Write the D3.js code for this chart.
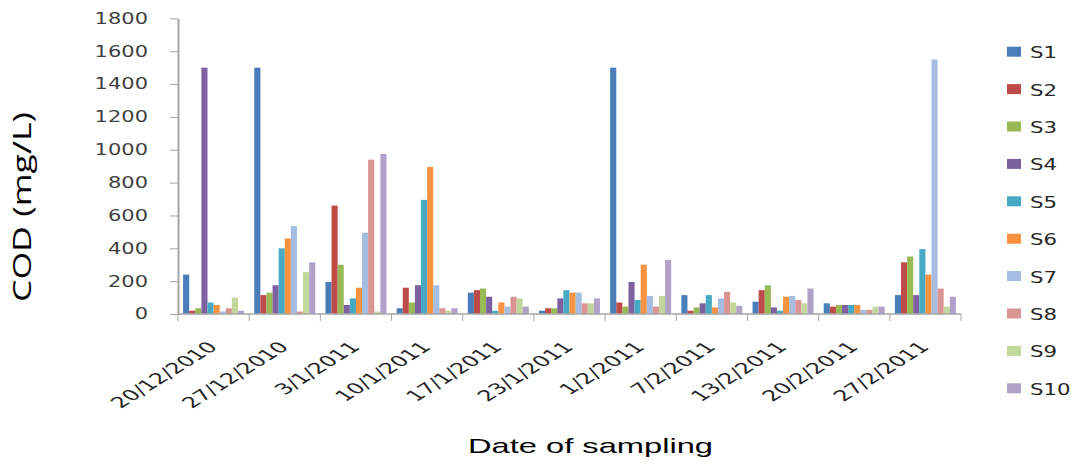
<!DOCTYPE html>
<html>
<head>
<meta charset="utf-8">
<script src="https://cdn.jsdelivr.net/npm/d3@7"></script>
<style>
  html, body { margin: 0; padding: 0; background: #fff; }
  svg { display: block; }
</style>
</head>
<body>
<svg id="chart" width="1076" height="469"></svg>
<script>
// ---- data ----
const dates = ["20/12/2010","27/12/2010","3/1/2011","10/1/2011","17/1/2011","23/1/2011","1/2/2011","7/2/2011","13/2/2011","20/2/2011","27/2/2011"];
const seriesNames = ["S1","S2","S3","S4","S5","S6","S7","S8","S9","S10"];
const S1  = [240, 1500, 195,  35, 130,  20, 1500, 115,  75, 65,  115];
const S2  = [ 20,  115, 660, 160, 145,  35,   70,  20, 145, 45,  315];
const S3  = [ 35,  130, 300,  70, 155,  35,   45,  40, 175, 55,  350];
const S4  = [1500, 175,  55, 175, 105,  95,  195,  65,  40, 55,  115];
const S5  = [ 70,  400,  95, 695,  20, 145,   85, 115,  20, 55,  395];
const S6  = [ 55,  460, 160, 895,  70, 130,  300,  40, 105, 55,  240];
const S7  = [ 15,  535, 495, 175,  45, 130,  110,  95, 110, 25, 1550];
const S8  = [ 35,   15, 940,  35, 105,  65,   45, 135,  85, 25,  155];
const S9  = [100,  255,  15,  20,  95,  65,  110,  70,  65, 45,   45];
const S10 = [ 20,  315, 975,  35,  45,  95,  330,  50, 155, 45,  105];
const yTicks = [0,200,400,600,800,1000,1200,1400,1600,1800];
const colors = ["#4A7EBB","#BE4B48","#98B954","#7D60A0","#46AAC5","#F69240","#A5BDE0","#DA9593","#C3D69B","#B1A0C7"];
const yTitle = "COD (mg/L)";
const xTitle = "Date of sampling";

const seriesValues = [S1,S2,S3,S4,S5,S6,S7,S8,S9,S10];

// ---- layout ----
const svg = d3.select("#chart");
const plotLeft = 178, plotRight = 961, plotTop = 18.4, plotBottom = 314;
const axisColor = "#A6A6A6";

const x0 = d3.scaleBand().domain(dates).range([plotLeft, plotRight]).paddingInner(0.143).paddingOuter(0.0715);
const x1 = d3.scaleBand().domain(seriesNames).range([0, x0.bandwidth()]);
const y = d3.scaleLinear().domain([0, 1800]).range([plotBottom, plotTop]);
const color = d3.scaleOrdinal().domain(seriesNames).range(colors);

// bars
const groups = svg.append("g").selectAll("g")
  .data(dates)
  .join("g")
  .attr("transform", d => `translate(${x0(d)},0)`);

groups.selectAll("rect")
  .data((d, i) => seriesNames.map((s, j) => ({ s, v: seriesValues[j][i] })))
  .join("rect")
  .attr("x", d => x1(d.s))
  .attr("width", x1.bandwidth())
  .attr("y", d => y(d.v))
  .attr("height", d => y(0) - y(d.v))
  .attr("fill", d => color(d.s));

// y axis
const yAxis = svg.append("g")
  .attr("transform", `translate(${plotLeft},0)`)
  .call(d3.axisLeft(y).tickValues(yTicks).tickSize(8).tickSizeOuter(0).tickFormat(""));
yAxis.select(".domain").attr("stroke", axisColor).attr("stroke-width", 2);
yAxis.selectAll(".tick line").attr("stroke", axisColor).attr("stroke-width", 1);

svg.append("g").selectAll("text")
  .data(yTicks)
  .join("text")
  .attr("transform", d => `translate(148,${y(d)}) scale(1.4,1)`)
  .attr("text-anchor", "end")
  .attr("dy", "0.36em")
  .attr("font-family", "DejaVu Sans")
  .attr("font-size", 15)
  .attr("fill", "#404040")
  .text(d => d);

// x axis
const step = x0.step();
const boundaries = d3.range(dates.length + 1).map(i => x0.range()[0] + i * step);
const xAxis = svg.append("g");
xAxis.append("line")
  .attr("x1", plotLeft).attr("x2", plotRight)
  .attr("y1", y(0)).attr("y2", y(0))
  .attr("stroke", axisColor).attr("stroke-width", 1.5);
xAxis.selectAll("line.tk")
  .data(boundaries)
  .join("line")
  .attr("class", "tk")
  .attr("x1", d => d).attr("x2", d => d)
  .attr("y1", y(0)).attr("y2", y(0) + 7)
  .attr("stroke", axisColor);

svg.append("g").selectAll("text")
  .data(dates)
  .join("text")
  .attr("transform", d => `translate(${x0(d) + x0.bandwidth() / 2 + 5},348) scale(1.6,1) rotate(-45)`)
  .attr("text-anchor", "end")
  .attr("font-family", "DejaVu Sans")
  .attr("font-size", 15)
  .attr("fill", "#262626")
  .text(d => d);

// axis titles
svg.append("text")
  .attr("transform", "translate(31,207) rotate(-90)")
  .attr("text-anchor", "middle")
  .attr("font-family", "Open Sans")
  .attr("font-size", 26)
  .attr("textLength", 190)
  .attr("lengthAdjust", "spacingAndGlyphs")
  .attr("fill", "#000")
  .text(yTitle);

svg.append("text")
  .attr("x", 468)
  .attr("y", 453)
  .attr("font-family", "Liberation Sans")
  .attr("font-size", 21)
  .attr("textLength", 245)
  .attr("lengthAdjust", "spacingAndGlyphs")
  .attr("fill", "#000")
  .text(xTitle);

// legend
const legend = svg.append("g").selectAll("g")
  .data(seriesNames)
  .join("g")
  .attr("transform", (d, i) => `translate(1007,${51.7 + i * 37.4})`);
legend.append("rect")
  .attr("x", 0).attr("y", -5)
  .attr("width", 14).attr("height", 10)
  .attr("fill", d => color(d));
legend.append("text")
  .attr("transform", "translate(23,6.5) scale(1.33,1)")
  .attr("font-family", "DejaVu Sans")
  .attr("font-size", 16)
  .attr("fill", "#262626")
  .text(d => d);
</script>
</body>
</html>
